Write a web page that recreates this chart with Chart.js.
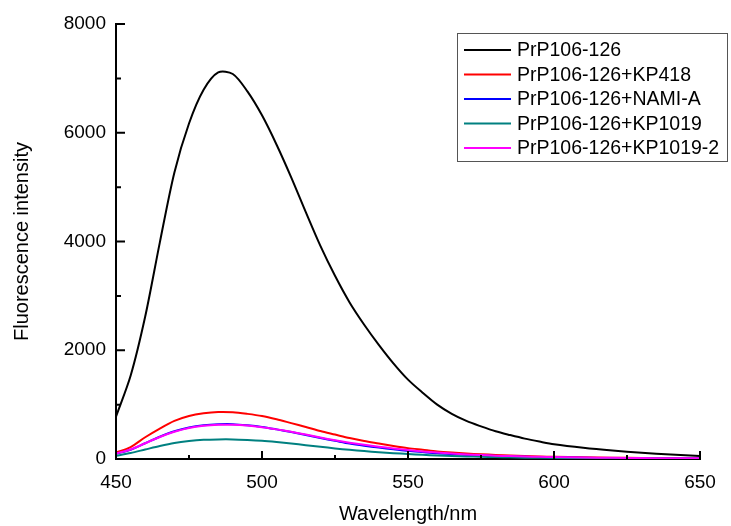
<!DOCTYPE html>
<html>
<head>
<meta charset="utf-8">
<script src="https://cdn.jsdelivr.net/npm/chart.js@4"></script>
<style>
  html, body { margin: 0; padding: 0; background: #fff; }
  #wrap { width: 731px; height: 526px; }
</style>
</head>
<body>
<div id="wrap"><canvas id="spec"></canvas></div>
<script>
// wavelength (nm)
const wavelengths = [450,455,460,465,470,475,480,485,490,495,500,505,510,515,520,525,530,535,540,545,550,555,560,565,570,575,580,585,590,595,600,610,620,630,640,650];

const prp     = [780,1530,2620,3980,5270,6170,6790,7110,7080,6760,6320,5780,5180,4540,3920,3370,2880,2470,2100,1760,1460,1220,1000,830,700,600,510,440,375,320,270,205,155,115,82,55];
const kp418   = [120,220,400,560,700,790,840,865,860,830,790,730,660,590,515,450,385,330,285,240,200,170,140,118,100,87,75,64,55,47,40,31,24,18,13,10];
const namiA   = [95,170,290,410,510,580,620,638,640,620,590,545,495,440,385,335,285,245,210,180,150,127,105,89,75,64,55,47,40,35,30,23,17,12,10,8];
const kp1019  = [60,110,175,240,295,330,352,360,360,350,335,312,285,255,225,195,168,145,125,107,92,78,65,56,48,41,35,30,25,22,20,16,12,9,7,5];
const kp1019b = [100,175,290,405,500,570,610,628,630,615,585,545,500,450,395,345,300,260,225,195,165,140,120,101,85,72,62,53,45,40,35,28,22,17,14,12];

const seriesNames = ['PrP106-126', 'PrP106-126+KP418', 'PrP106-126+NAMI-A', 'PrP106-126+KP1019', 'PrP106-126+KP1019-2'];
const seriesColors = ['#000000', '#ff0000', '#0000ff', '#008080', '#ff00ff'];

const xMajor = [450, 500, 550, 600, 650];
const xMinor = [475, 525, 575, 625];
const yMajor = [0, 2000, 4000, 6000, 8000];
const yMinor = [1000, 3000, 5000, 7000];

const FONT = 'Arial, "Liberation Sans", sans-serif';

function toPoints(vals) {
    return vals.map((v, i) => ({ x: wavelengths[i], y: v }));
}

const allSeries = [prp, kp418, namiA, kp1019, kp1019b];
const datasets = allSeries.map((vals, i) => ({
    label: seriesNames[i],
    data: toPoints(vals),
    borderColor: seriesColors[i],
    borderWidth: 2,
    pointRadius: 0,
    fill: false,
    tension: 0.3,
    order: i === 0 ? 5 : 4 - i
}));

// inward ticks on the left and bottom axes
const inwardTicks = {
    id: 'inwardTicks',
    afterDraw(chart) {
        const ctx = chart.ctx;
        const xs = chart.scales.x, ys = chart.scales.y;
        const a = chart.chartArea;
        ctx.save();
        ctx.strokeStyle = '#000';
        ctx.lineWidth = 2;
        ctx.beginPath();
        xMajor.forEach(v => { const p = xs.getPixelForValue(v); ctx.moveTo(p, a.bottom); ctx.lineTo(p, a.bottom - 8); });
        xMinor.forEach(v => { const p = xs.getPixelForValue(v); ctx.moveTo(p, a.bottom); ctx.lineTo(p, a.bottom - 4); });
        yMajor.forEach(v => { const p = ys.getPixelForValue(v); ctx.moveTo(a.left, p); ctx.lineTo(a.left + 9, p); });
        yMinor.forEach(v => { const p = ys.getPixelForValue(v); ctx.moveTo(a.left, p); ctx.lineTo(a.left + 5, p); });
        ctx.stroke();
        ctx.restore();
    }
};

// boxed legend in the top right corner
const boxLegend = {
    id: 'boxLegend',
    afterDraw(chart) {
        const ctx = chart.ctx;
        const bx = 457, by = 33, bw = 270, bh = 128;
        ctx.save();
        ctx.fillStyle = '#fff';
        ctx.fillRect(bx, by, bw, bh);
        ctx.strokeStyle = '#555';
        ctx.lineWidth = 1;
        ctx.strokeRect(bx + 0.5, by + 0.5, bw, bh);
        ctx.font = '19.5px ' + FONT;
        ctx.textBaseline = 'middle';
        chart.data.datasets.forEach((ds, i) => {
            const y = 50 + i * 24.5;
            ctx.strokeStyle = ds.borderColor;
            ctx.lineWidth = 2;
            ctx.beginPath();
            ctx.moveTo(464, y);
            ctx.lineTo(511, y);
            ctx.stroke();
            ctx.fillStyle = '#000';
            ctx.fillText(ds.label, 517, y + 1);
        });
        ctx.restore();
    }
};

new Chart(document.getElementById('spec'), {
    type: 'line',
    data: { datasets: datasets },
    plugins: [inwardTicks, boxLegend],
    options: {
        responsive: true,
        maintainAspectRatio: false,
        animation: false,
        layout: { padding: { top: 24, right: 31, left: 0, bottom: 0 } },
        plugins: {
            legend: { display: false },
            tooltip: { enabled: false }
        },
        scales: {
            x: {
                type: 'linear',
                min: 450,
                max: 650,
                afterFit(scale) { scale.height = 67; },
                afterBuildTicks(scale) { scale.ticks = xMajor.map(v => ({ value: v })); },
                grid: { display: false, drawTicks: false },
                border: { display: true, color: '#000', width: 2 },
                ticks: {
                    color: '#000',
                    font: { size: 19, family: FONT },
                    padding: 12,
                    maxRotation: 0,
                    callback: v => String(v)
                },
                title: {
                    display: true,
                    text: 'Wavelength/nm',
                    color: '#000',
                    font: { size: 20, family: FONT },
                    padding: { top: 0, bottom: 0 }
                }
            },
            y: {
                type: 'linear',
                min: 0,
                max: 8000,
                afterFit(scale) { scale.width = 116; },
                afterBuildTicks(scale) { scale.ticks = yMajor.map(v => ({ value: v })); },
                grid: { display: false, drawTicks: false },
                border: { display: true, color: '#000', width: 2 },
                ticks: {
                    color: '#000',
                    font: { size: 19, family: FONT },
                    padding: 10,
                    callback: v => String(v)
                },
                title: {
                    display: true,
                    text: 'Fluorescence intensity',
                    color: '#000',
                    font: { size: 20, family: FONT },
                    padding: { top: 10, bottom: 0 }
                }
            }
        }
    }
});
</script>
</body>
</html>
